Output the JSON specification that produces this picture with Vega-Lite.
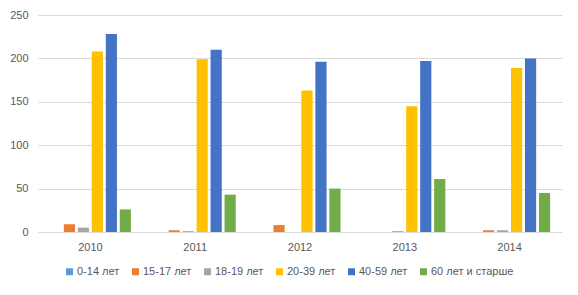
{
  "$schema": "https://vega.github.io/schema/vega-lite/v6.json",
  "width": 524,
  "height": 217,
  "autosize": {"type": "none"},
  "padding": {"left": 38, "top": 15, "right": 16, "bottom": 63},
  "background": "white",
  "config": {
    "view": {"stroke": null},
    "font": "Liberation Sans",
    "axis": {"labelColor": "#595959", "labelFontSize": 11, "labelFont": "Liberation Sans"},
    "legend": {"labelColor": "#595959", "labelFontSize": 11, "labelFont": "Liberation Sans"}
  },
  "data": {
    "values": [
      {"year": "2010", "group": "0-14 лет", "value": 0},
      {"year": "2010", "group": "15-17 лет", "value": 9},
      {"year": "2010", "group": "18-19 лет", "value": 5},
      {"year": "2010", "group": "20-39 лет", "value": 208},
      {"year": "2010", "group": "40-59 лет", "value": 228},
      {"year": "2010", "group": "60 лет и старше", "value": 26},
      {"year": "2011", "group": "0-14 лет", "value": 0},
      {"year": "2011", "group": "15-17 лет", "value": 2},
      {"year": "2011", "group": "18-19 лет", "value": 1},
      {"year": "2011", "group": "20-39 лет", "value": 199},
      {"year": "2011", "group": "40-59 лет", "value": 210},
      {"year": "2011", "group": "60 лет и старше", "value": 43},
      {"year": "2012", "group": "0-14 лет", "value": 0},
      {"year": "2012", "group": "15-17 лет", "value": 8},
      {"year": "2012", "group": "18-19 лет", "value": 0},
      {"year": "2012", "group": "20-39 лет", "value": 163},
      {"year": "2012", "group": "40-59 лет", "value": 196},
      {"year": "2012", "group": "60 лет и старше", "value": 50},
      {"year": "2013", "group": "0-14 лет", "value": 0},
      {"year": "2013", "group": "15-17 лет", "value": 0},
      {"year": "2013", "group": "18-19 лет", "value": 1},
      {"year": "2013", "group": "20-39 лет", "value": 145},
      {"year": "2013", "group": "40-59 лет", "value": 197},
      {"year": "2013", "group": "60 лет и старше", "value": 61},
      {"year": "2014", "group": "0-14 лет", "value": 0},
      {"year": "2014", "group": "15-17 лет", "value": 2},
      {"year": "2014", "group": "18-19 лет", "value": 2},
      {"year": "2014", "group": "20-39 лет", "value": 189},
      {"year": "2014", "group": "40-59 лет", "value": 200},
      {"year": "2014", "group": "60 лет и старше", "value": 45}
    ]
  },
  "mark": {"type": "bar"},
  "encoding": {
    "x": {
      "field": "year",
      "type": "nominal",
      "scale": {"paddingInner": 0.2, "paddingOuter": 0.1},
      "axis": {"title": null, "labelAngle": 0, "domainColor": "#D9D9D9", "domainWidth": 1, "ticks": false, "labelPadding": 9}
    },
    "xOffset": {
      "field": "group",
      "type": "nominal",
      "sort": ["0-14 лет", "15-17 лет", "18-19 лет", "20-39 лет", "40-59 лет", "60 лет и старше"],
      "scale": {"paddingInner": 0.2, "paddingOuter": 0.1}
    },
    "y": {
      "field": "value",
      "type": "quantitative",
      "scale": {"domain": [0, 250]},
      "axis": {"title": null, "values": [0, 50, 100, 150, 200, 250], "domain": false, "ticks": false, "gridColor": "#D9D9D9", "labelPadding": 10}
    },
    "color": {
      "field": "group",
      "type": "nominal",
      "sort": ["0-14 лет", "15-17 лет", "18-19 лет", "20-39 лет", "40-59 лет", "60 лет и старше"],
      "scale": {
        "domain": ["0-14 лет", "15-17 лет", "18-19 лет", "20-39 лет", "40-59 лет", "60 лет и старше"],
        "range": ["#5B9BD5", "#ED7D31", "#A5A5A5", "#FFC000", "#4472C4", "#70AD47"]
      },
      "legend": {
        "title": null,
        "orient": "none",
        "direction": "horizontal",
        "legendX": 26,
        "legendY": 251,
        "symbolType": "square",
        "symbolSize": 49,
        "symbolStrokeWidth": 0,
        "columnPadding": 10,
        "labelOffset": 2
      }
    }
  }
}
